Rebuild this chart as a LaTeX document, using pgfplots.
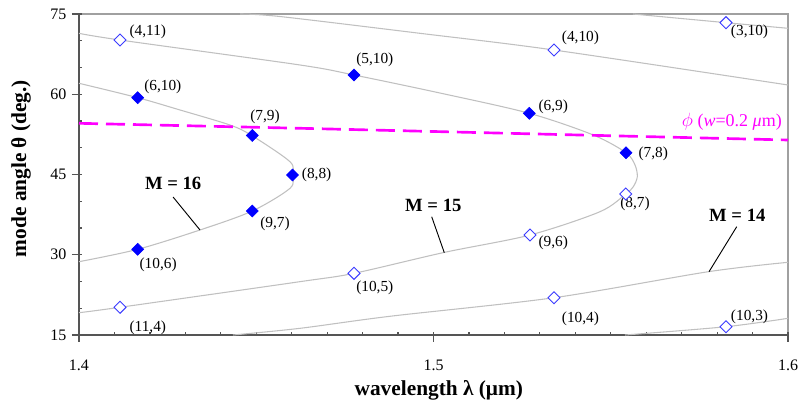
\documentclass[border=0pt]{standalone}
\usepackage{fontspec}
\setmainfont{Liberation Serif}
\usepackage{pgfplots}
\pgfplotsset{compat=1.18}
\definecolor{curveGray}{HTML}{C0C0C0}
\definecolor{axisDark}{HTML}{555555}
\definecolor{frameGray}{HTML}{A0A0A0}
\definecolor{openBlue}{HTML}{3C3CFF}
\definecolor{phiMag}{HTML}{FF00FF}
\tikzset{
    curve/.style={curveGray, line width=0.8pt, smooth},
    lbl/.style={anchor=west, inner sep=0pt, font=\fontsize{11.5}{13}\selectfont},
    mlbl/.style={anchor=base, inner sep=0pt, font=\fontsize{14}{16}\selectfont\bfseries},
    tk/.style={axisDark, line width=0.9pt},
}

\begin{document}
\begin{tikzpicture}
% light frame on top and right
\draw[frameGray, line width=0.8pt] (0,240.75pt) -- (531.75pt,240.75pt) -- (531.75pt,0);
\begin{axis}[
    scale only axis,
    width=531.75pt, height=240.75pt,
    at={(0,0)}, anchor=south west,
    xmin=1.4, xmax=1.6, ymin=15, ymax=75,
    axis lines=left,
    axis line style={axisDark, line width=1.2pt, -},
    clip=false,
    xtick={1.4,1.5,1.6}, xticklabels={1.4,1.5,1.6},
    ytick={15,30,45,60,75},
    tick align=inside,
    major tick length=0pt, minor tick length=0pt,
    /pgf/number format/assume math mode=true,
    tick label style={font=\fontsize{12}{14}\selectfont},
    xticklabel style={yshift=-15.5pt},
    yticklabel style={xshift=-6pt},
    xlabel={\textbf{wavelength λ (μm)}},
    ylabel={\textbf{mode angle θ (deg.)}},
    label style={font=\fontsize{16}{18}\selectfont},
    xlabel style={at={(axis description cs:0.5075,-0.172)}, anchor=center},
    ylabel style={at={(axis description cs:-0.0818,0.5187)}, anchor=center},
]

% tick marks: majors cross the axis, minors point inward
\pgfplotsinvokeforeach{1.4,1.5,1.6}{
    \draw[tk] ([yshift=-5pt]axis cs:#1,15) -- ([yshift=2.5pt]axis cs:#1,15);
}
\pgfplotsinvokeforeach{1.41,1.42,1.43,1.44,1.45,1.46,1.47,1.48,1.49,
                       1.51,1.52,1.53,1.54,1.55,1.56,1.57,1.58,1.59}{
    \draw[tk] (axis cs:#1,15) -- ([yshift=2.5pt]axis cs:#1,15);
}
\pgfplotsinvokeforeach{15,30,45,60,75}{
    \draw[tk] ([xshift=-5.25pt]axis cs:1.4,#1) -- ([xshift=2.25pt]axis cs:1.4,#1);
}
\pgfplotsinvokeforeach{20,25,35,40,50,55,65,70}{
    \draw[tk] (axis cs:1.4,#1) -- ([xshift=2.5pt]axis cs:1.4,#1);
}

% M = 16
\addplot[curve, no markers] coordinates {
    (1.4,62.05) (1.41656,59.36) (1.42849,57.06) (1.44259,54.25) (1.44872,52.29)
    (1.45952,47.39) (1.46023,44.91) (1.45952,42.42) (1.44889,38.18)
    (1.43413,34.63) (1.41656,31.02) (1.4,28.70)
};
% M = 15
\addplot[curve, no markers] coordinates {
    (1.4,71.39) (1.41157,70.14) (1.46234,65.47) (1.47757,63.60) (1.50183,60.23)
    (1.52702,56.44) (1.54508,52.38) (1.5543,49.07) (1.55684,46.78) (1.55749,44.59)
    (1.55636,42.72) (1.55422,41.36) (1.54697,38.05) (1.52722,33.69) (1.50305,30.44)
    (1.47757,26.53) (1.46234,24.97) (1.41157,20.18) (1.4,19.17)
};
% M = 14
\addplot[curve, no markers] coordinates {
    (1.44542,75) (1.4567,74.53) (1.4962,71.39) (1.53399,68.27) (1.6,61.73)
};
\addplot[curve, no markers] coordinates {
    (1.44344,15) (1.46234,16.25) (1.48773,18.5) (1.53399,21.97) (1.57752,26.83) (1.6,28.59)
};
% M = 13
\addplot[curve, no markers] coordinates {(1.55627,75) (1.58251,73.38) (1.6,72.33)};
\addplot[curve, no markers] coordinates {(1.55402,15) (1.58251,16.55) (1.6,18.12)};

% phi (w = 0.2 um)
\addplot[phiMag, line width=2pt, dash pattern=on 14.25pt off 6pt, no markers] coordinates {
    (1.4,54.57) (1.46234,53.64) (1.54133,52.38) (1.6,51.45)
};

% guided modes
\addplot[only marks, mark=square*, mark size=3.2pt,
    mark options={rotate=45, fill=blue, draw=blue}] coordinates {
    (1.41656,59.36) (1.44889,52.3) (1.46023,44.91) (1.44889,38.18) (1.41656,31.02)
    (1.47757,63.60) (1.52702,56.44) (1.5543,49.07)
};
\addplot[only marks, mark=square*, mark size=3.2pt,
    mark options={rotate=45, fill=white, draw=openBlue, line width=0.7pt}] coordinates {
    (1.41157,70.14) (1.41157,20.18) (1.53399,68.27) (1.58251,73.38) (1.55422,41.36)
    (1.52722,33.69) (1.47757,26.53) (1.53399,21.97) (1.58251,16.55)
};

% leader lines
\draw[black, line width=0.7pt] (axis cs:1.42654,40.79) -- (axis cs:1.43413,34.63);
\draw[black, line width=0.7pt] (axis cs:1.49949,37.11) -- (axis cs:1.50305,30.38);
\draw[black, line width=0.7pt] (axis cs:1.58553,35.24) -- (axis cs:1.57772,26.83);

\node[mlbl] at (axis cs:1.42657,42.23) {M = 16};
\node[mlbl] at (axis cs:1.49995,38.05) {M = 15};
\node[mlbl] at (axis cs:1.5857,36.18) {M = 14};

\node[lbl] at (axis cs:1.4142,71.69) {(4,11)};
\node[lbl] at (axis cs:1.41834,61.30) {(6,10)};
\node[lbl] at (axis cs:1.44824,55.80) {(7,9)};
\node[lbl] at (axis cs:1.46282,44.91) {(8,8)};
\node[lbl] at (axis cs:1.45106,35.75) {(9,7)};
\node[lbl] at (axis cs:1.41701,28.08) {(10,6)};
\node[lbl] at (axis cs:1.41419,16.36) {(11,4)};
\node[lbl] at (axis cs:1.47814,66.40) {(5,10)};
\node[lbl] at (axis cs:1.53616,70.46) {(4,10)};
\node[lbl] at (axis cs:1.52956,57.67) {(6,9)};
\node[lbl] at (axis cs:1.58384,71.69) {(3,10)};
\node[lbl] at (axis cs:1.55777,48.78) {(7,8)};
\node[lbl] at (axis cs:1.55261,39.49) {(8,7)};
\node[lbl] at (axis cs:1.52956,32.14) {(9,6)};
\node[lbl] at (axis cs:1.47814,23.73) {(10,5)};
\node[lbl] at (axis cs:1.53616,18.12) {(10,4)};
\node[lbl] at (axis cs:1.58384,18.31) {(10,3)};

\node[anchor=east, inner sep=0pt, text=phiMag, font=\fontsize{13.5}{15}\selectfont]
    at (axis cs:1.59831,54.87) {$\phi$ (\textit{w}=0.2 \textit{μ}m)};
\end{axis}
\pgfresetboundingbox
\path[use as bounding box] (-59.25pt,-51.75pt) rectangle (539.25pt,251.25pt);
\end{tikzpicture}
\end{document}
